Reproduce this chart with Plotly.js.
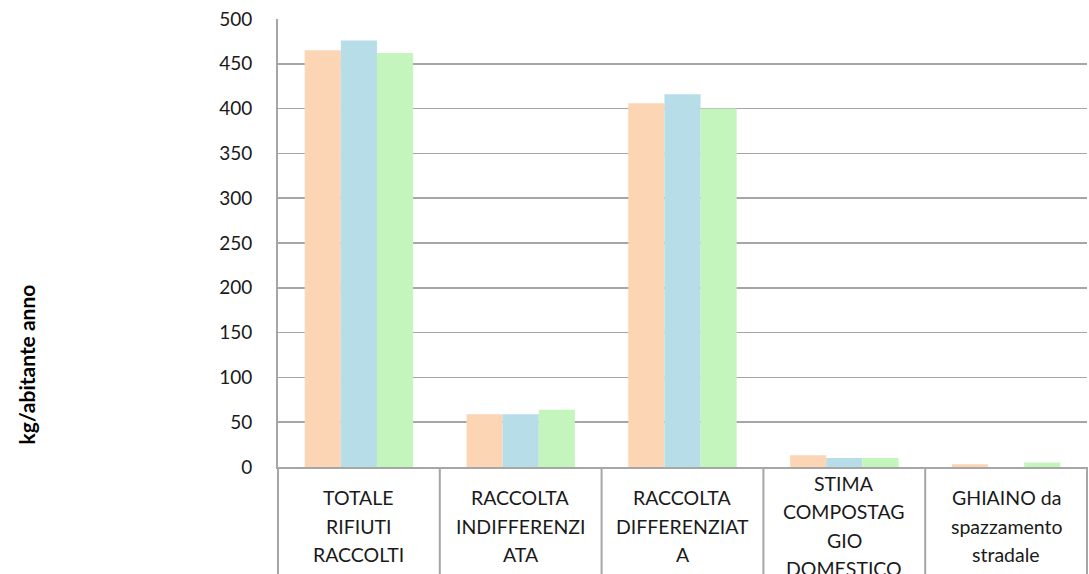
<!DOCTYPE html>
<html>
<head>
<meta charset="utf-8">
<script src="https://cdn.plot.ly/plotly-3.0.1.min.js"></script>
<style>html,body{margin:0;padding:0;background:#fff;}#chart{width:1089px;height:574px;}</style>
</head>
<body>
<div id="chart"></div>
<script>
const categories = ["TOTALE RIFIUTI RACCOLTI", "RACCOLTA INDIFFERENZIATA", "RACCOLTA DIFFERENZIATA", "STIMA COMPOSTAGGIO DOMESTICO", "GHIAINO da spazzamento stradale"];
const categoryLines = [
  ["TOTALE", "RIFIUTI", "RACCOLTI"],
  ["RACCOLTA", "INDIFFERENZI", "ATA"],
  ["RACCOLTA", "DIFFERENZIAT", "A"],
  ["STIMA", "COMPOSTAG", "GIO", "DOMESTICO"],
  ["GHIAINO da", "spazzamento", "stradale"]
];
const seriesA = [465, 59, 406, 13, 3];
const seriesB = [476, 59, 416, 10, 0];
const seriesC = [462, 64, 400, 10, 5];
const yTicks = [0, 50, 100, 150, 200, 250, 300, 350, 400, 450, 500];
const yTitle = "kg/abitante anno";

const colors = ["#FCD5B5", "#B7DEE8", "#C4F5BC"];
const font = "Lato, 'Open Sans', sans-serif";

const traces = [seriesA, seriesB, seriesC].map((vals, i) => ({
  type: "bar",
  x: categories,
  y: vals,
  marker: {color: colors[i], line: {width: 0}},
  hoverinfo: "none"
}));

const shapes = [];
for (let i = 0; i <= categories.length; i++) {
  shapes.push({type: "line", xref: "paper", yref: "paper",
    x0: i / categories.length, x1: i / categories.length, y0: 0, y1: -0.3,
    line: {color: "#A6A6A6", width: 2}});
}

const annotations = [];
categoryLines.forEach((lines, c) => {
  const n = lines.length;
  lines.forEach((t, i) => {
    annotations.push({xref: "x", yref: "paper", x: categories[c], y: 0,
      yanchor: "middle", xanchor: "center", showarrow: false,
      yshift: -(59 + (i - (n - 1) / 2) * 28.3),
      text: t, font: {family: font, size: 19.5, color: "#1a1a1a"}});
  });
});
annotations.push({xref: "paper", yref: "paper", x: 0, y: 0.229, xshift: -252,
  xanchor: "center", yanchor: "middle", textangle: -90, showarrow: false,
  text: "<b>" + yTitle + "</b>", font: {family: font, size: 21, color: "#000"}});

const layout = {
  width: 1089, height: 574,
  margin: {l: 278, r: 2, t: 19, b: 107},
  paper_bgcolor: "#fff", plot_bgcolor: "#fff",
  showlegend: false,
  barmode: "group", bargap: 0.33, bargroupgap: 0,
  xaxis: {type: "category", showticklabels: false, showgrid: false, zeroline: false,
    showline: true, linecolor: "#A6A6A6", linewidth: 2, ticks: ""},
  yaxis: {range: [0, 500], tickvals: yTicks, ticktext: yTicks.map(String),
    showgrid: true, gridcolor: "#A6A6A6", gridwidth: 1.5, zeroline: false,
    showline: true, linecolor: "#A6A6A6", linewidth: 2, ticks: "", ticklen: 0,
    ticklabelstandoff: 20,
    tickfont: {family: font, size: 19, color: "#1a1a1a"}},
  shapes: shapes,
  annotations: annotations
};

Plotly.newPlot("chart", traces, layout, {displayModeBar: false, staticPlot: true});
</script>
</body>
</html>
